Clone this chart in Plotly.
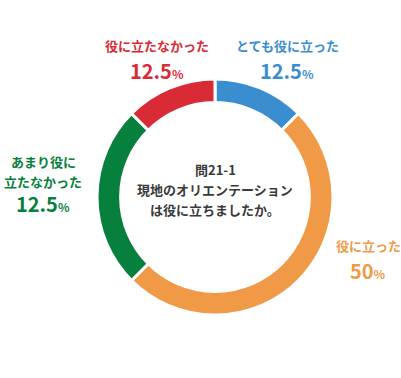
import plotly.graph_objects as go

categories = ["とても役に立った", "役に立った", "あまり役に立たなかった", "役に立たなかった"]
arc_values = [12.5, 50, 25, 12.5]
shown_percent = ["12.5", "50", "12.5", "12.5"]
colors = ["#3a8ed0", "#f09a48", "#07803d", "#d92b35"]
label_lines = [["とても役に立った"], ["役に立った"], ["あまり役に", "立たなかった"], ["役に立たなかった"]]
center_lines = ["問21-1", "現地のオリエンテーション", "は役に立ちましたか。"]

W, H = 401, 378
cx, cy, R = 215, 197, 118
FONT = "Noto Sans CJK JP"

fig = go.Figure(go.Pie(
    labels=categories, values=arc_values, hole=0.8, sort=False,
    direction="clockwise", rotation=0,
    marker=dict(colors=colors, line=dict(color="white", width=3)),
    textinfo="none", hoverinfo="label+percent", showlegend=False,
    domain=dict(x=[(cx - R) / W, (cx + R) / W],
                y=[(H - cy - R) / H, (H - cy + R) / H]),
))

# label positions (pixels): (x, y of first line, line spacing, number y)
label_pos = [(287, 45, 0, 71), (368, 245, 0, 270), (43, 161, 20, 203), (157, 45, 0, 71)]

ann = []
for i, (x, y0, dy, ny) in enumerate(label_pos):
    for j, line in enumerate(label_lines[i]):
        ann.append(dict(x=x / W, y=1 - (y0 + j * dy) / H, xref="paper", yref="paper",
                        xanchor="center", yanchor="middle",
                        text="<b>%s</b>" % line, showarrow=False,
                        font=dict(family=FONT, size=13, color=colors[i])))
    ann.append(dict(x=x / W, y=1 - ny / H, xref="paper", yref="paper",
                    xanchor="center", yanchor="middle",
                    text="<b>%s<span style='font-size:12px'>%%</span></b>" % shown_percent[i],
                    showarrow=False, font=dict(family=FONT, size=20, color=colors[i])))

for j, line in enumerate(center_lines):
    ann.append(dict(x=cx / W, y=1 - (169 + j * 20) / H, xref="paper", yref="paper",
                    xanchor="center", yanchor="middle",
                    text="<b>%s</b>" % line, showarrow=False,
                    font=dict(family=FONT, size=13, color="#3a3a3a")))

fig.update_layout(width=W, height=H, margin=dict(l=0, r=0, t=0, b=0),
                  paper_bgcolor="white", plot_bgcolor="white", annotations=ann)
fig.write_html("out.html", config={"displayModeBar": False},
               post_script="document.body.style.margin='0px';")
